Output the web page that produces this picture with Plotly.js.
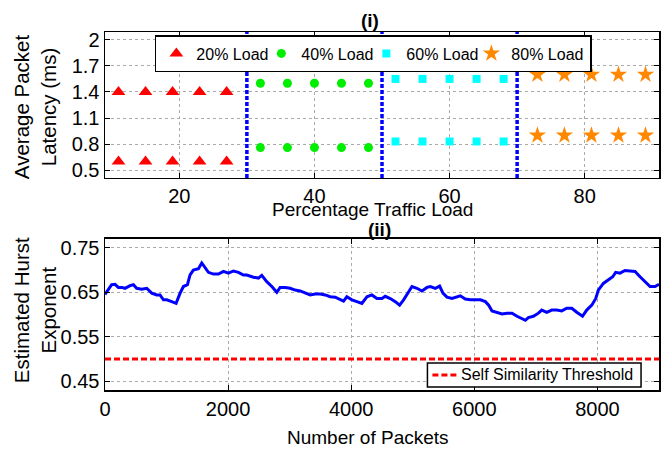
<!DOCTYPE html>
<html>
<head>
<meta charset="utf-8">
<script src="https://cdn.plot.ly/plotly-3.0.1.min.js"></script>
<style>html,body{margin:0;padding:0;background:#fff;}#chart{width:662px;height:449px;}</style>
</head>
<body>
<div id="chart"></div>
<script>
// ---- Panel (i): average packet latency ----
const load20X = [11, 15, 19, 23, 27];
const load20Hi = [1.4, 1.4, 1.4, 1.4, 1.4];
const load20Lo = [0.6, 0.6, 0.6, 0.6, 0.6];
const load40X = [32, 36, 40, 44, 48];
const load40Hi = [1.5, 1.5, 1.5, 1.5, 1.5];
const load40Lo = [0.76, 0.76, 0.76, 0.76, 0.76];
const load60X = [52, 56, 60, 64, 68];
const load60Hi = [1.55, 1.55, 1.55, 1.55, 1.55];
const load60Lo = [0.83, 0.83, 0.83, 0.83, 0.83];
const load80X = [73, 77, 81, 85, 89];
const load80Hi = [1.6, 1.6, 1.6, 1.6, 1.6];
const load80Lo = [0.9, 0.9, 0.9, 0.9, 0.9];
const loadNames = ["20% Load", "40% Load", "60% Load", "80% Load"];
const loadBoundaries = [30, 50, 70];
const topXTicks = [20, 40, 60, 80];
const topXTickText = ["20", "40", "60", "80"];
const topYTicks = [0.5, 0.8, 1.1, 1.4, 1.7, 2.0];
const topYTickText = ["0.5", "0.8", "1.1", "1.4", "1.7", "2"];

// ---- Panel (ii): estimated Hurst exponent ----
const packets = [0, 50, 108, 163, 217, 271, 325, 407, 461, 515, 596, 678, 759, 840, 894, 949, 1003, 1084, 1155, 1220,
  1274, 1339, 1382, 1436, 1518, 1572, 1626, 1680, 1762, 1843, 1924, 2005, 2087, 2168, 2249, 2303, 2412, 2493, 2547, 2628,
  2710, 2791, 2845, 2927, 3008, 3089, 3170, 3252, 3333, 3414, 3496, 3577, 3658, 3740, 3821, 3875, 3929, 4011, 4092, 4173,
  4255, 4336, 4417, 4499, 4553, 4634, 4716, 4786, 4851, 4932, 4987, 5068, 5149, 5231, 5285, 5366, 5436, 5490, 5555, 5637,
  5718, 5772, 5853, 5935, 6016, 6097, 6179, 6233, 6287, 6368, 6450, 6531, 6612, 6694, 6775, 6829, 6878, 6959, 7041, 7095,
  7176, 7258, 7339, 7420, 7502, 7583, 7664, 7757, 7826, 7908, 7973, 8014, 8096, 8177, 8248, 8296, 8367, 8448, 8530, 8611,
  8692, 8774, 8855, 8936, 9000];
const hurst = [0.645, 0.655, 0.667, 0.668, 0.661, 0.661, 0.659, 0.665, 0.667, 0.659, 0.657, 0.659, 0.648, 0.644, 0.644, 0.633, 0.633, 0.629, 0.625, 0.648,
  0.663, 0.667, 0.689, 0.700, 0.703, 0.716, 0.704, 0.695, 0.691, 0.691, 0.697, 0.693, 0.698, 0.695, 0.689, 0.689, 0.684, 0.682, 0.688, 0.674,
  0.663, 0.650, 0.661, 0.661, 0.659, 0.655, 0.653, 0.648, 0.644, 0.646, 0.646, 0.644, 0.640, 0.639, 0.634, 0.630, 0.640, 0.633, 0.629, 0.625,
  0.640, 0.644, 0.636, 0.636, 0.641, 0.636, 0.629, 0.621, 0.633, 0.652, 0.663, 0.659, 0.653, 0.661, 0.663, 0.659, 0.664, 0.648, 0.639, 0.636,
  0.639, 0.642, 0.635, 0.633, 0.633, 0.633, 0.629, 0.621, 0.608, 0.605, 0.601, 0.603, 0.603, 0.596, 0.590, 0.587, 0.593, 0.596, 0.603, 0.610,
  0.605, 0.610, 0.610, 0.608, 0.614, 0.614, 0.605, 0.596, 0.610, 0.621, 0.636, 0.655, 0.670, 0.678, 0.685, 0.695, 0.693, 0.699, 0.698, 0.697,
  0.685, 0.674, 0.663, 0.663, 0.668];
const thresholdX = [0, 9000];
const thresholdY = [0.5, 0.5];
const thresholdName = "Self Similarity Threshold";
const botXTicks = [0, 2000, 4000, 6000, 8000];
const botXTickText = ["0", "2000", "4000", "6000", "8000"];
const botYTicks = [0.45, 0.55, 0.65, 0.75];
const botYTickText = ["0.45", "0.55", "0.65", "0.75"];

const FONT = "Liberation Sans, Arial, Helvetica, sans-serif";
const THRESH_COLOR = "#ff0000";
const THRESH_DASH = "6px,3px";

function markerPair(xs, hi, lo, name, symbol, color, size, lw) {
  return {
    x: xs.concat([null], xs),
    y: hi.concat([null], lo),
    type: "scatter", mode: "markers", name: name,
    xaxis: "x", yaxis: "y", legend: "legend", legendwidth: lw,
    marker: {symbol: symbol, color: color, size: size, line: {width: 0}},
    hoverinfo: "x+y"
  };
}

const traces = [
  markerPair(load20X, load20Hi, load20Lo, loadNames[0], "triangle-up", "#ff0000", 12, 60),
  markerPair(load40X, load40Hi, load40Lo, loadNames[1], "circle", "#00ee00", 9, 60),
  markerPair(load60X, load60Hi, load60Lo, loadNames[2], "square", "#00ffff", 8, 60),
  markerPair(load80X, load80Hi, load80Lo, loadNames[3], "star", "#ff8800", 13, 74),
  {
    x: packets, y: hurst, type: "scatter", mode: "lines", name: "Hurst",
    xaxis: "x2", yaxis: "y2", showlegend: false,
    line: {color: "#0000ff", width: 3}
  },
  {
    x: thresholdX, y: thresholdY, type: "scatter", mode: "lines", name: thresholdName,
    xaxis: "x2", yaxis: "y2", showlegend: false,
    line: {color: THRESH_COLOR, width: 3, dash: THRESH_DASH}
  }
];

const axisCommon = {
  showline: true, linecolor: "#000", linewidth: 1.5, mirror: "ticks",
  ticks: "inside", ticklen: 5, tickcolor: "#000", tickwidth: 1,
  showgrid: true, gridcolor: "#aaaaaa", gridwidth: 1, griddash: "dot",
  zeroline: false, tickmode: "array",
  tickfont: {family: FONT, size: 20, color: "#000"}
};

const shapes = loadBoundaries.map(b => ({
  type: "line", xref: "x", yref: "y domain", x0: b, x1: b, y0: 0, y1: 1,
  line: {color: "#0000ff", width: 3.5, dash: "4px,2px"}, layer: "above"
}));
// compact boxed key for the threshold line (lower panel)
shapes.push({
  type: "rect", xref: "paper", yref: "paper", x0: 0.582, x1: 0.9676, y0: 0.0084, y1: 0.0754,
  fillcolor: "#ffffff", line: {color: "#000", width: 1.5}, layer: "above"
});
shapes.push({
  type: "line", xref: "paper", yref: "paper", x0: 0.591, x1: 0.636, y0: 0.0419, y1: 0.0419,
  line: {color: THRESH_COLOR, width: 3, dash: THRESH_DASH}, layer: "above"
});

const titleFont = {family: FONT, size: 19, color: "#000"};
const yTitleFont = {family: FONT, size: 20.5, color: "#000"};

const layout = {
  width: 662, height: 449,
  margin: {l: 105, r: 3, t: 32, b: 59},
  paper_bgcolor: "#fff", plot_bgcolor: "#fff",
  font: {family: FONT, color: "#000"},
  showlegend: true,
  xaxis: Object.assign({}, axisCommon, {
    domain: [0, 1], anchor: "y", range: [9, 91],
    tickvals: topXTicks, ticktext: topXTickText
  }),
  yaxis: Object.assign({}, axisCommon, {
    domain: [0.5922, 1], anchor: "x", range: [0.41, 2.09],
    tickvals: topYTicks, ticktext: topYTickText
  }),
  xaxis2: Object.assign({}, axisCommon, {
    domain: [0, 1], anchor: "y2", range: [0, 9000],
    tickvals: botXTicks, ticktext: botXTickText
  }),
  yaxis2: Object.assign({}, axisCommon, {
    domain: [0, 0.4218], anchor: "x2", range: [0.43, 0.77],
    tickvals: botYTicks, ticktext: botYTickText
  }),
  legend: {
    orientation: "h", x: 0.09, xanchor: "left", y: 0.9916, yanchor: "top",
    bgcolor: "#fff", bordercolor: "#000", borderwidth: 1.5,
    font: {family: FONT, size: 16, color: "#000"},
    entrywidthmode: "pixels"
  },
  shapes: shapes,
  annotations: [
    {text: "<b>(i)</b>", xref: "paper", yref: "paper", x: 0.4775, y: 1.0335, xanchor: "center", yanchor: "middle",
     showarrow: false, font: titleFont},
    {text: "<b>(ii)</b>", xref: "paper", yref: "paper", x: 0.4955, y: 0.4497, xanchor: "center", yanchor: "middle",
     showarrow: false, font: titleFont},
    {text: "Percentage Traffic Load", xref: "paper", yref: "paper", x: 0.4829, y: 0.5042,
     xanchor: "center", yanchor: "middle", showarrow: false, font: titleFont, borderpad: 0},
    {text: "Number of Packets", xref: "paper", yref: "paper", x: 0.4748, y: -0.1313,
     xanchor: "center", yanchor: "middle", showarrow: false, font: titleFont, borderpad: 0},
    {text: "Average Packet<br>Latency (ms)", xref: "paper", yref: "paper", x: -0.1261, y: 0.7905,
     xanchor: "center", yanchor: "middle", textangle: -90, showarrow: false, align: "center",
     font: yTitleFont},
    {text: "Estimated Hurst<br>Exponent", xref: "paper", yref: "paper", x: -0.1261, y: 0.2235,
     xanchor: "center", yanchor: "middle", textangle: -90, showarrow: false, align: "center",
     font: yTitleFont},
    {text: thresholdName, xref: "paper", yref: "paper", x: 0.6414, y: 0.0419,
     xanchor: "left", yanchor: "middle", showarrow: false, borderpad: 0,
     font: {family: FONT, size: 16, color: "#000"}}
  ]
};

Plotly.newPlot("chart", traces, layout, {displayModeBar: false, staticPlot: true});
</script>
</body>
</html>
